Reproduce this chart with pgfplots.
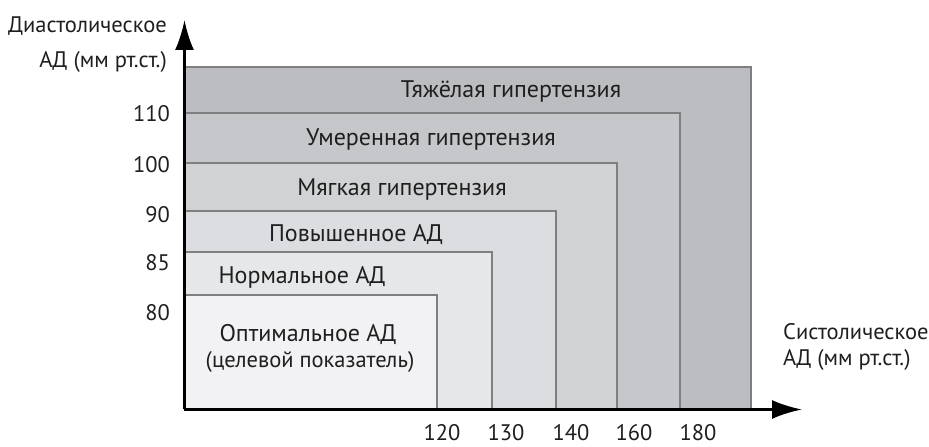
\documentclass[border=0pt]{standalone}
\usepackage{fontspec}
\setmainfont{PT Sans}
\usepackage{pgfplots}
\pgfplotsset{compat=1.18}
\usetikzlibrary{arrows.meta}

\definecolor{c1}{HTML}{F2F2F4}
\definecolor{c2}{HTML}{E6E7E9}
\definecolor{c3}{HTML}{DCDDE0}
\definecolor{c4}{HTML}{D1D2D4}
\definecolor{c5}{HTML}{C6C7CA}
\definecolor{c6}{HTML}{BCBDC0}
\definecolor{edge}{HTML}{7F7F82}

\tikzset{
  rect/.style={draw=edge, line width=1.1pt},
  lbl/.style={font=\fontsize{24}{28}\selectfont, inner sep=0pt, text=black!88},
}

\begin{document}
\begin{tikzpicture}
\useasboundingbox (-184.5pt,-37pt) rectangle (744.5pt,409.5pt);
\begin{axis}[
  x=1pt, y=1pt,
  xmin=0, xmax=617.5, ymin=0, ymax=389.5,
  axis lines=left,
  axis on top,
  clip=false,
  axis line style={line width=2.8pt, -{Latex[length=30pt,width=19pt]}},
  major tick length=0pt,
  xtick={257.5,321.5,386.5,449.5,513.5},
  xticklabels={120,130,140,160,180},
  ytick={96.5,146.5,194.5,244.5,295.5},
  yticklabels={80,85,90,100,110},
  xticklabel style={anchor=center, inner sep=0pt, yshift=-23pt, text=black!88, font=\fontsize{22.5}{26}\selectfont},
  yticklabel style={anchor=east, inner sep=0pt, xshift=-14.5pt, text=black!88, font=\fontsize{22.5}{26}\selectfont},
  every axis x label/.style={at={(axis cs:598.5,63)}, anchor=west, align=left, inner sep=0pt, text=black!88, font=\fontsize{22.5}{26}\selectfont},
  every axis y label/.style={at={(axis cs:-17.5,365)}, anchor=east, align=right, inner sep=0pt, text=black!88, font=\fontsize{22.5}{35}\selectfont},
  xlabel={Систолическое\\АД (мм рт.ст.)},
  ylabel={Диастолическое\\АД (мм рт.ст.)},
]
% nested zones: right edge = systolic limit, top = diastolic limit
\addplot[rect, fill=c6] coordinates {(0,0) (566.5,0) (566.5,342.5) (0,342.5)} --cycle;
\addplot[rect, fill=c5] coordinates {(0,0) (495.5,0) (495.5,296.5) (0,296.5)} --cycle;
\addplot[rect, fill=c4] coordinates {(0,0) (432.5,0) (432.5,246.5) (0,246.5)} --cycle;
\addplot[rect, fill=c3] coordinates {(0,0) (371.5,0) (371.5,198.5) (0,198.5)} --cycle;
\addplot[rect, fill=c2] coordinates {(0,0) (307.5,0) (307.5,157.5) (0,157.5)} --cycle;
\addplot[rect, fill=c1] coordinates {(0,0) (252.5,0) (252.5,114.5) (0,114.5)} --cycle;

\node[lbl] at (axis cs:326.5,317.5) {Тяжёлая гипертензия};
\node[lbl] at (axis cs:246.5,269.5) {Умеренная гипертензия};
\node[lbl] at (axis cs:217.5,219.5) {Мягкая гипертензия};
\node[lbl] at (axis cs:171.5,174.5) {Повышенное АД};
\node[lbl] at (axis cs:117.5,132.5) {Нормальное АД};
\node[lbl] at (axis cs:123.5,74.5) {Оптимальное АД};
\node[lbl, font=\fontsize{22.5}{26}\selectfont] at (axis cs:125.5,47.5) {(целевой показатель)};
\end{axis}
\end{tikzpicture}
\end{document}
